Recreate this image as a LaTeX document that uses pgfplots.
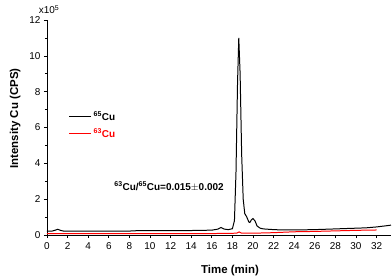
\documentclass[border=0pt]{standalone}
\usepackage{pgfplots}
\pgfplotsset{compat=1.18}
\usepackage{fontspec}
\setmainfont{Liberation Sans}
\begin{document}
\begin{tikzpicture}
\begin{axis}[
  name=ax,
  at={(0,0)}, anchor=south west,
  scale only axis,
  clip=false,
  width=344bp, height=215bp,
  xmin=0, xmax=33.4, ymin=0, ymax=12,
  axis x line*=bottom, axis y line*=left,
  xtick={0,2,...,32}, ytick={0,2,...,12},
  minor y tick num=1,
  tick align=outside,
  major tick length=3bp, minor tick length=2bp,
  tick style={black, line width=0.6pt},
  axis line style={line width=0.8pt},
  /pgf/number format/assume math mode=true,
  tick label style={font=\fontsize{10}{12}\selectfont},
  xticklabel style={yshift=-1bp},
  xlabel={\textbf{Time (min)}},
  ylabel={\textbf{Intensity Cu (CPS)}},
  label style={font=\fontsize{11.5}{13}\selectfont},
  xlabel style={yshift=-9bp, xshift=11bp},
  ylabel style={yshift=2bp, xshift=9bp},
  legend style={at={(axis cs:1.8,7.1)}, anchor=north west, draw=none, fill=none,
    font=\fontsize{10}{12}\selectfont, row sep=3bp},
  legend cell align=left,
  legend image code/.code={\draw[#1] (0bp,0bp) -- (22bp,0bp);},
]
\addplot[black, line width=1pt] coordinates {
(0,0.22) (0.5,0.22) (0.8,0.27) (1.05,0.32) (1.3,0.26) (1.6,0.22) (3,0.22) (5,0.22)
(8,0.22) (8.7,0.24) (10,0.25) (12,0.25) (14,0.25) (16,0.27) (16.6,0.33) (16.9,0.42)
(17.2,0.33) (17.6,0.3) (18.0,0.35) (18.2,0.8) (18.35,3.5) (18.5,8.5) (18.62,11.0)
(18.75,9.0) (18.9,4.5) (19.05,2.0) (19.2,1.2) (19.4,1.0) (19.6,0.72) (19.7,0.7)
(19.85,0.85) (20.0,0.92) (20.2,0.78) (20.4,0.5) (20.7,0.38) (21,0.34) (22,0.3)
(23,0.28) (24,0.28) (26,0.3) (28,0.34) (30,0.38) (31,0.4) (32,0.45) (33,0.52) (33.4,0.55)
};
\addlegendentry{\textbf{\textsuperscript{65}Cu}}
\addplot[red, line width=1pt] coordinates {
(0,0.07) (5,0.07) (10,0.07) (16,0.08) (18.4,0.1) (18.65,0.17) (18.9,0.1) (20,0.1)
(22,0.13) (24,0.18) (26,0.2) (28,0.23) (30,0.26) (32,0.28)
};
\addlegendentry{\color{red}\textbf{\textsuperscript{63}Cu}}
\node[anchor=west, font=\fontsize{10}{12}\selectfont\bfseries] at (axis cs:6.2,2.7)
  {\textsuperscript{63}Cu/\textsuperscript{65}Cu=0.015$\pm$0.002};
\node[anchor=south, font=\fontsize{10}{12}\selectfont, inner sep=0pt] at ([yshift=6bp]axis cs:0.2,12)
  {x10\textsuperscript{5}};
\end{axis}
\pgfresetboundingbox
\path[use as bounding box] ([shift={(-47bp,-45bp)}]ax.south west) rectangle ([shift={(345bp,235bp)}]ax.south west);
\end{tikzpicture}
\end{document}
